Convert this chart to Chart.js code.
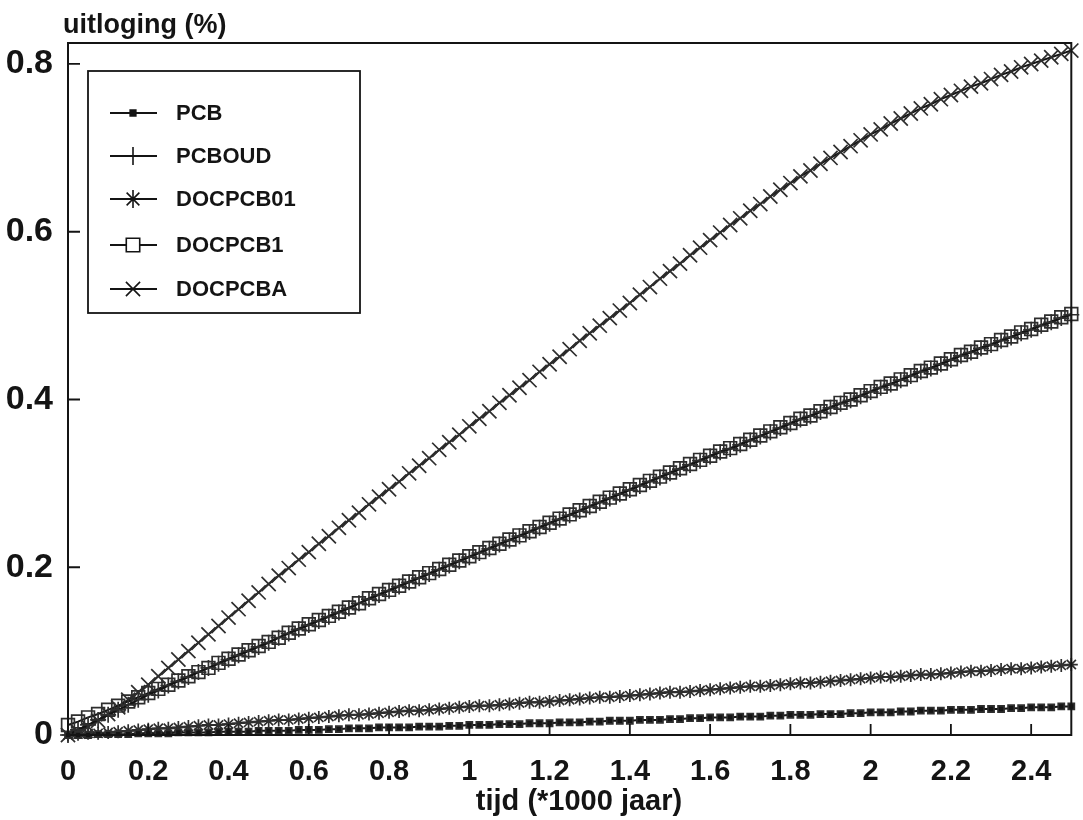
<!DOCTYPE html>
<html>
<head>
<meta charset="utf-8">
<title>uitloging</title>
<style>
  html, body { margin: 0; padding: 0; background: #ffffff; }
  #wrap { width: 1083px; height: 820px; }
</style>
<script src="https://cdn.jsdelivr.net/npm/chart.js@4.4.1/dist/chart.umd.min.js"></script>
</head>
<body>
<div id="wrap"><canvas id="c" width="1083" height="820"></canvas></div>
<script>
// time axis (*1000 jaar)
const times = [
  0, 0.025, 0.05, 0.075, 0.1, 0.125, 0.15, 0.175, 0.2, 0.225,
  0.25, 0.275, 0.3, 0.325, 0.35, 0.375, 0.4, 0.425, 0.45, 0.475,
  0.5, 0.525, 0.55, 0.575, 0.6, 0.625, 0.65, 0.675, 0.7, 0.725,
  0.75, 0.775, 0.8, 0.825, 0.85, 0.875, 0.9, 0.925, 0.95, 0.975,
  1, 1.025, 1.05, 1.075, 1.1, 1.125, 1.15, 1.175, 1.2, 1.225,
  1.25, 1.275, 1.3, 1.325, 1.35, 1.375, 1.4, 1.425, 1.45, 1.475,
  1.5, 1.525, 1.55, 1.575, 1.6, 1.625, 1.65, 1.675, 1.7, 1.725,
  1.75, 1.775, 1.8, 1.825, 1.85, 1.875, 1.9, 1.925, 1.95, 1.975,
  2, 2.025, 2.05, 2.075, 2.1, 2.125, 2.15, 2.175, 2.2, 2.225,
  2.25, 2.275, 2.3, 2.325, 2.35, 2.375, 2.4, 2.425, 2.45, 2.475,
  2.5
];

// leaching (%) per scenario
const pcb = [
  0.000, 0.000, 0.000, 0.001, 0.001, 0.001, 0.001, 0.002, 0.002, 0.002,
  0.002, 0.003, 0.003, 0.003, 0.003, 0.004, 0.004, 0.004, 0.004, 0.005,
  0.005, 0.005, 0.005, 0.006, 0.006, 0.006, 0.007, 0.007, 0.008, 0.008,
  0.008, 0.009, 0.009, 0.009, 0.009, 0.010, 0.010, 0.010, 0.011, 0.011,
  0.012, 0.012, 0.012, 0.013, 0.013, 0.013, 0.014, 0.014, 0.014, 0.015,
  0.015, 0.015, 0.016, 0.016, 0.017, 0.017, 0.017, 0.018, 0.018, 0.018,
  0.019, 0.019, 0.020, 0.020, 0.021, 0.021, 0.021, 0.022, 0.022, 0.022,
  0.023, 0.023, 0.024, 0.024, 0.024, 0.025, 0.025, 0.025, 0.026, 0.026,
  0.027, 0.027, 0.027, 0.028, 0.028, 0.029, 0.029, 0.029, 0.030, 0.030,
  0.030, 0.031, 0.031, 0.031, 0.032, 0.032, 0.033, 0.033, 0.033, 0.034,
  0.034
];
const pcboud = [
  0.000, 0.006, 0.012, 0.018, 0.024, 0.030, 0.036, 0.042, 0.048, 0.053,
  0.059, 0.064, 0.069, 0.075, 0.080, 0.085, 0.090, 0.095, 0.100, 0.105,
  0.110, 0.116, 0.121, 0.126, 0.131, 0.136, 0.141, 0.146, 0.151, 0.157,
  0.162, 0.167, 0.172, 0.177, 0.182, 0.187, 0.192, 0.197, 0.202, 0.207,
  0.212, 0.217, 0.222, 0.227, 0.232, 0.237, 0.242, 0.247, 0.252, 0.257,
  0.262, 0.267, 0.272, 0.277, 0.282, 0.287, 0.292, 0.297, 0.302, 0.307,
  0.312, 0.317, 0.322, 0.327, 0.332, 0.337, 0.341, 0.346, 0.351, 0.356,
  0.361, 0.366, 0.371, 0.376, 0.380, 0.385, 0.390, 0.395, 0.399, 0.404,
  0.409, 0.414, 0.418, 0.423, 0.428, 0.433, 0.437, 0.442, 0.447, 0.452,
  0.456, 0.461, 0.465, 0.470, 0.474, 0.479, 0.483, 0.488, 0.492, 0.497,
  0.501
];
const docpcb01 = [
  0.000, 0.001, 0.002, 0.002, 0.003, 0.004, 0.005, 0.006, 0.007, 0.008,
  0.008, 0.009, 0.010, 0.011, 0.012, 0.012, 0.013, 0.014, 0.015, 0.016,
  0.017, 0.018, 0.018, 0.019, 0.020, 0.021, 0.022, 0.023, 0.024, 0.024,
  0.025, 0.026, 0.027, 0.028, 0.029, 0.029, 0.030, 0.031, 0.032, 0.033,
  0.034, 0.035, 0.035, 0.036, 0.037, 0.038, 0.039, 0.039, 0.040, 0.041,
  0.042, 0.043, 0.044, 0.045, 0.045, 0.046, 0.047, 0.048, 0.049, 0.050,
  0.051, 0.051, 0.052, 0.053, 0.054, 0.055, 0.056, 0.057, 0.058, 0.058,
  0.059, 0.060, 0.061, 0.062, 0.062, 0.063, 0.064, 0.065, 0.066, 0.067,
  0.068, 0.069, 0.069, 0.070, 0.071, 0.072, 0.072, 0.073, 0.074, 0.075,
  0.076, 0.076, 0.077, 0.078, 0.079, 0.079, 0.080, 0.081, 0.082, 0.083,
  0.084
];
const docpcb1 = [
  0.012, 0.016, 0.021, 0.025, 0.030, 0.035, 0.040, 0.045, 0.050, 0.055,
  0.060, 0.065, 0.070, 0.075, 0.080, 0.086, 0.091, 0.096, 0.101, 0.106,
  0.111, 0.116, 0.122, 0.127, 0.132, 0.137, 0.142, 0.147, 0.152, 0.157,
  0.163, 0.168, 0.173, 0.178, 0.183, 0.188, 0.193, 0.198, 0.203, 0.208,
  0.213, 0.218, 0.223, 0.228, 0.233, 0.238, 0.243, 0.248, 0.253, 0.258,
  0.263, 0.268, 0.273, 0.278, 0.283, 0.288, 0.293, 0.298, 0.303, 0.308,
  0.313, 0.318, 0.323, 0.328, 0.333, 0.338, 0.342, 0.347, 0.352, 0.357,
  0.362, 0.367, 0.372, 0.377, 0.381, 0.386, 0.391, 0.396, 0.400, 0.405,
  0.410, 0.415, 0.419, 0.424, 0.429, 0.434, 0.438, 0.443, 0.448, 0.453,
  0.457, 0.462, 0.466, 0.471, 0.475, 0.480, 0.484, 0.489, 0.493, 0.498,
  0.502
];
const docpcba = [
  0.000, 0.004, 0.010, 0.017, 0.025, 0.033, 0.042, 0.051, 0.060, 0.070,
  0.080, 0.090, 0.100, 0.110, 0.120, 0.130, 0.140, 0.150, 0.160, 0.170,
  0.180, 0.190, 0.199, 0.209, 0.218, 0.228, 0.237, 0.247, 0.256, 0.265,
  0.275, 0.284, 0.293, 0.302, 0.312, 0.321, 0.330, 0.340, 0.349, 0.358,
  0.368, 0.377, 0.386, 0.396, 0.405, 0.414, 0.423, 0.433, 0.442, 0.451,
  0.460, 0.470, 0.479, 0.488, 0.497, 0.506, 0.515, 0.525, 0.534, 0.544,
  0.553, 0.562, 0.572, 0.581, 0.590, 0.599, 0.608, 0.616, 0.625, 0.633,
  0.642, 0.650, 0.658, 0.666, 0.673, 0.681, 0.688, 0.695, 0.702, 0.709,
  0.716, 0.722, 0.729, 0.735, 0.741, 0.747, 0.752, 0.758, 0.763, 0.768,
  0.773, 0.777, 0.782, 0.787, 0.791, 0.796, 0.800, 0.804, 0.808, 0.812,
  0.816
];

const seriesNames = ['PCB', 'PCBOUD', 'DOCPCB01', 'DOCPCB1', 'DOCPCBA'];

const xTickValues = [0, 0.2, 0.4, 0.6, 0.8, 1, 1.2, 1.4, 1.6, 1.8, 2, 2.2, 2.4];
const xTickLabels = ['0', '0.2', '0.4', '0.6', '0.8', '1', '1.2', '1.4', '1.6', '1.8', '2', '2.2', '2.4'];
const yTickValues = [0, 0.2, 0.4, 0.6, 0.8];
const yTickLabels = ['0', '0.2', '0.4', '0.6', '0.8'];

const yTitle = 'uitloging (%)';
const xTitle = 'tijd (*1000 jaar)';

const INK = '#141414';
const MARK = '#2e2e2e';
const FONT = '"Liberation Sans", Arial, sans-serif';

const pts = arr => times.map((t, i) => ({ x: t, y: arr[i] }));

const styles = [
  { data: pcb,      pointStyle: 'rect',     r: 4.3, fill: INK,             legendR: 4 },
  { data: pcboud,   pointStyle: 'cross',    r: 8,   fill: 'rgba(0,0,0,0)', legendR: 9 },
  { data: docpcb01, pointStyle: 'star',     r: 6.5, fill: 'rgba(0,0,0,0)', legendR: 9 },
  { data: docpcb1,  pointStyle: 'rect',     r: 9,   fill: 'rgba(0,0,0,0)', legendR: 9.5 },
  { data: docpcba,  pointStyle: 'crossRot', r: 10,  fill: 'rgba(0,0,0,0)', legendR: 10 }
];

const datasets = styles.map((s, i) => ({
  label: seriesNames[i],
  data: pts(s.data),
  borderColor: INK,
  borderWidth: 2,
  tension: 0,
  fill: false,
  clip: false,
  pointStyle: s.pointStyle,
  pointRadius: s.r,
  pointHoverRadius: s.r,
  pointBorderColor: MARK,
  pointBackgroundColor: s.fill,
  pointBorderWidth: 1.7
}));

// frame, inward tick marks, axis titles and the boxed legend
const decorations = {
  id: 'decorations',
  afterDatasetsDraw(chart) {
    const { ctx, chartArea: a, scales } = chart;
    ctx.save();
    ctx.strokeStyle = INK;
    ctx.lineWidth = 2;
    ctx.strokeRect(a.left, a.top, a.right - a.left, a.bottom - a.top);

    ctx.lineWidth = 1.8;
    ctx.beginPath();
    yTickValues.forEach(v => {
      const y = scales.y.getPixelForValue(v);
      ctx.moveTo(a.left, y);
      ctx.lineTo(a.left + 12, y);
    });
    xTickValues.forEach(v => {
      const x = scales.x.getPixelForValue(v);
      ctx.moveTo(x, a.bottom);
      ctx.lineTo(x, a.bottom - 11);
    });
    ctx.stroke();

    ctx.fillStyle = INK;
    ctx.textBaseline = 'alphabetic';
    ctx.textAlign = 'left';
    ctx.font = 'bold 27px ' + FONT;
    ctx.fillText(yTitle, 63, 33);

    ctx.textAlign = 'center';
    ctx.textBaseline = 'middle';
    ctx.font = 'bold 29px ' + FONT;
    ctx.fillText(xTitle, 579, 802);

    // legend box
    const box = { left: 88, top: 71, right: 360, bottom: 313 };
    ctx.fillStyle = '#ffffff';
    ctx.fillRect(box.left, box.top, box.right - box.left, box.bottom - box.top);
    ctx.strokeStyle = INK;
    ctx.lineWidth = 1.8;
    ctx.strokeRect(box.left, box.top, box.right - box.left, box.bottom - box.top);

    const rowY = [113, 156, 199, 245, 289];
    ctx.font = 'bold 22px ' + FONT;
    ctx.textAlign = 'left';
    ctx.textBaseline = 'middle';
    styles.forEach((s, i) => {
      const y = rowY[i];
      ctx.strokeStyle = INK;
      ctx.lineWidth = 1.8;
      ctx.beginPath();
      ctx.moveTo(110, y);
      ctx.lineTo(157, y);
      ctx.stroke();
      ctx.fillStyle = i === 0 ? INK : '#ffffff';
      ctx.lineWidth = 1.6;
      Chart.helpers.drawPoint(ctx, {
        pointStyle: s.pointStyle, radius: s.legendR, rotation: 0, borderWidth: 1.6
      }, 133, y);
      ctx.fillStyle = INK;
      ctx.fillText(seriesNames[i], 176, y + 1);
    });
    ctx.restore();
  }
};

new Chart(document.getElementById('c'), {
  type: 'line',
  data: { datasets },
  plugins: [decorations],
  options: {
    responsive: false,
    devicePixelRatio: 1,
    animation: false,
    events: [],
    layout: { padding: { top: 43, right: 7, left: 0, bottom: 0 } },
    plugins: { legend: { display: false }, tooltip: { enabled: false }, title: { display: false } },
    scales: {
      x: {
        type: 'linear',
        min: 0,
        max: 2.5,
        grid: { display: false, drawTicks: false },
        border: { display: false },
        afterBuildTicks: s => { s.ticks = xTickValues.map(v => ({ value: v })); },
        afterFit: s => { s.height = 85; },
        ticks: {
          autoSkip: false,
          maxRotation: 0,
          padding: 20,
          color: INK,
          font: { family: FONT, size: 29, weight: 'bold' },
          callback: v => xTickLabels[xTickValues.indexOf(v)]
        }
      },
      y: {
        type: 'linear',
        min: 0,
        max: 0.825,
        grid: { display: false, drawTicks: false },
        border: { display: false },
        afterBuildTicks: s => { s.ticks = yTickValues.map(v => ({ value: v })); },
        afterFit: s => { s.width = 68; },
        ticks: {
          autoSkip: false,
          padding: 15,
          color: INK,
          font: { family: FONT, size: 34, weight: 'bold' },
          callback: v => yTickLabels[yTickValues.indexOf(v)]
        }
      }
    }
  }
});
</script>
</body>
</html>
